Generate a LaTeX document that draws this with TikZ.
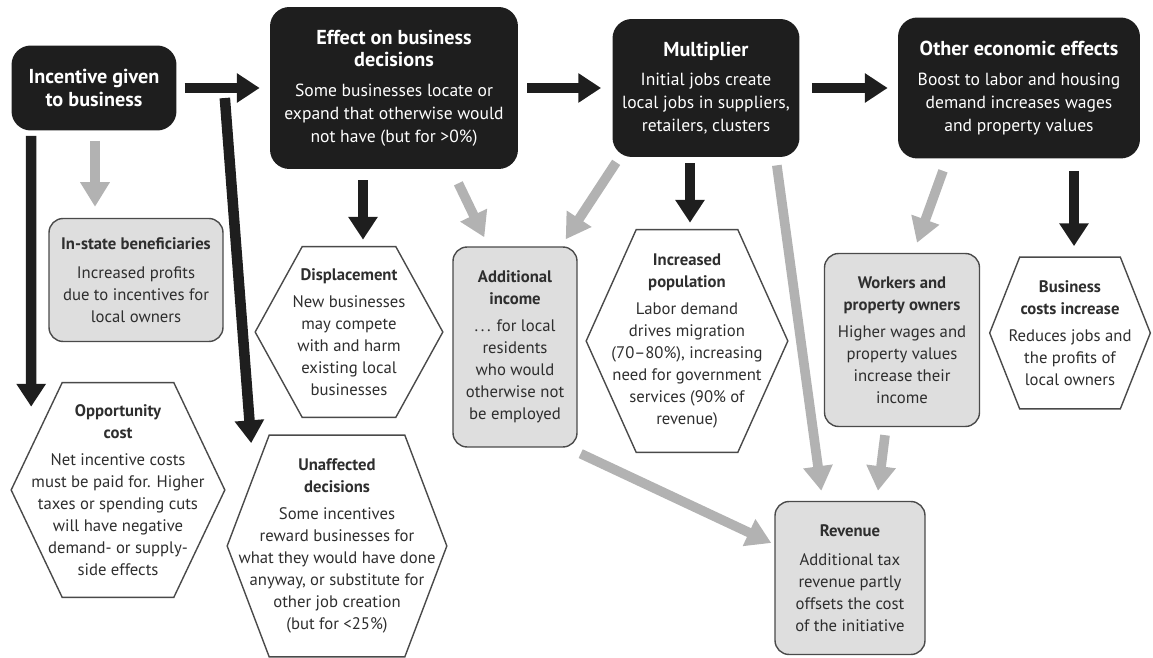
\documentclass[tikz,border=0pt]{standalone}
\usepackage{fontspec}
\setmainfont{PT Sans}
\usepackage{tikz}
\usetikzlibrary{arrows.meta,calc}
\pgfdeclarelayer{bg}
\pgfsetlayers{bg,main}

\definecolor{boxblack}{HTML}{1E1E1E}
\definecolor{boxgrey}{HTML}{DEDEDE}
\definecolor{boxedge}{HTML}{4A4A4A}
\definecolor{textdark}{HTML}{2E2E2E}
\definecolor{arrgrey}{HTML}{B2B2B2}

\newcommand{\bigttl}[1]{{\fontsize{11.5}{14}\selectfont\bfseries #1}}
\newcommand{\ttl}[1]{{\bfseries #1}}

\tikzset{
  darkbox/.style={rounded corners=11pt, fill=boxblack, text=white, align=center,
    inner sep=0pt, font=\fontsize{10}{13}\selectfont},
  greybox/.style={rounded corners=8pt, draw=boxedge, line width=0.8pt, fill=boxgrey,
    text=textdark, align=center, inner sep=0pt, font=\fontsize{9.5}{12.5}\selectfont},
  hexbox/.style={text=textdark, align=center, inner sep=0pt,
    font=\fontsize{9.5}{12.5}\selectfont},
  hexline/.style={draw=boxedge, line width=0.8pt},
  blk/.style={draw=boxblack, line width=6pt, -{Triangle[width=16pt,length=13pt]}},
  gry/.style={draw=arrgrey, line width=5.5pt, -{Triangle[width=16pt,length=14pt]}},
}

\begin{document}
\begin{tikzpicture}[x=0.02cm, y=-0.02cm]
        \useasboundingbox (0,0) rectangle (1153,658);
        % top row
        \node (inc) [darkbox, minimum width=3.30cm, minimum height=1.70cm] at (94, 88)
                {\bigttl{Incentive given}\\\bigttl{to business}};
        \node (eff) [darkbox, minimum width=4.96cm, minimum height=3.24cm] at (394, 88)
                {\bigttl{Effect on business}\\\bigttl{decisions}\\[4pt]
                 Some businesses locate or\\expand that otherwise would\\not have (but for >0\%)};
        \node (mult) [darkbox, minimum width=3.74cm, minimum height=2.76cm] at (706, 88)
                {\bigttl{Multiplier}\\[4pt]
                 Initial jobs create\\local jobs in suppliers,\\retailers, clusters};
        \node (oth) [darkbox, minimum width=4.84cm, minimum height=2.82cm] at (1019, 88)
                {\bigttl{Other economic effects}\\[4pt]
                 Boost to labor and housing\\demand increases wages\\and property values};
        % grey boxes
        \node (inst) [greybox, minimum width=3.48cm, minimum height=2.46cm] at (136, 280)
                {\ttl{In-state beneficiaries}\\[4pt]
                 Increased profits\\due to incentives for\\local owners};
        \node (addinc) [greybox, minimum width=2.48cm, minimum height=4.00cm] at (515, 347)
                {\ttl{Additional}\\\ttl{income}\\[3pt]
                 .\,.\,. for local\\residents\\who would\\otherwise not\\be employed};
        \node (work) [greybox, minimum width=3.10cm, minimum height=3.46cm] at (902, 340)
                {\ttl{Workers and}\\\ttl{property owners}\\[3pt]
                 Higher wages and\\property values\\increase their\\income};
        \node (rev) [greybox, minimum width=3.00cm, minimum height=3.06cm] at (850, 578)
                {\ttl{Revenue}\\[4pt]
                 Additional tax\\revenue partly\\offsets the cost\\of the initiative};
        % hexagons
        \node (opp) [hexbox, minimum width=4.26cm, minimum height=4.28cm] at (118, 490)
                {\ttl{Opportunity}\\\ttl{cost}\\[3pt]
                 Net incentive costs\\must be paid for. Higher\\taxes or spending cuts\\will have negative\\demand- or supply-\\side effects};
        \node (disp) [hexbox, minimum width=3.74cm, minimum height=3.40cm] at (349, 332)
                {\ttl{Displacement}\\[3pt]
                 New businesses\\may compete\\with and harm\\existing local\\businesses};
        \node (unaff) [hexbox, minimum width=4.38cm, minimum height=4.42cm] at (337, 546)
                {\ttl{Unaffected}\\\ttl{decisions}\\[3pt]
                 Some incentives\\reward businesses for\\what they would have done\\anyway, or substitute for\\other job creation\\(but for <25\%)};
        \node (pop) [hexbox, minimum width=4.02cm, minimum height=4.44cm] at (687, 341)
                {\ttl{Increased}\\\ttl{population}\\[3pt]
                 Labor demand\\drives migration\\(70--80\%), increasing\\need for government\\services (90\% of\\revenue)};
        \node (bus) [hexbox, minimum width=3.20cm, minimum height=3.02cm] at (1070, 333)
                {\ttl{Business}\\\ttl{costs increase}\\[3pt]
                 Reduces jobs and\\the profits of\\local owners};
        \begin{pgfonlayer}{bg}
                \foreach \n/\d in {opp/51, disp/47, unaff/42, pop/50, bus/30}
                        \draw[hexline] (\n.west) -- ($(\n.north west)+(\d,0)$) -- ($(\n.north east)+(-\d,0)$)
                                -- (\n.east) -- ($(\n.south east)+(-\d,0)$) -- ($(\n.south west)+(\d,0)$) -- cycle;
                % main chain
                \draw[blk, shorten <=4.5pt, shorten >=5.7pt] (inc) -- (eff);
                \draw[blk, shorten <=5pt, shorten >=6.3pt] (eff) -- (mult);
                \draw[blk, shorten <=6.8pt, shorten >=5.7pt] (mult) -- (oth);
                % downward
                \draw[blk] ($(inc.south west)+(20,5)$) -- ($(opp.north west)+(20,24)$);
                \draw[gry] ($(inc.south)+(1,10)$) -- ($(inst.north)+(-41,-11)$);
                \draw[blk] ($(inc.east)+(48,10)$) -- ($(unaff.north west)+(24,8)$);
                \draw[blk] ($(eff.south)+(-31,11)$) -- ($(disp.north)+(14,-7)$);
                \draw[gry] ($(eff.south east)+(-60,14)$) -- ($(addinc.north west)+(32,-9)$);
                \draw[gry] ($(mult.south west)+(4,5)$) -- ($(addinc.north east)+(-12,-7)$);
                \draw[blk] ($(mult.south)+(-16,6)$) -- ($(pop.north)+(3,-7)$);
                \draw[gry] ($(mult.south east)+(-23,8)$) -- ($(rev.north west)+(47,-10)$);
                \draw[gry] ($(oth.south)+(-76,12)$) -- ($(work.north)+(15,-10)$);
                \draw[blk] ($(oth.south)+(55,12)$) -- ($(bus.north)+(4,-11)$);
                \draw[gry] ($(work.south)+(-17,8)$) -- ($(rev.north)+(28,-10)$);
                \draw[gry] ($(addinc.south east)+(3,6)$) -- ($(rev.west)+(-3,-35)$);
        \end{pgfonlayer}
\end{tikzpicture}
\end{document}
